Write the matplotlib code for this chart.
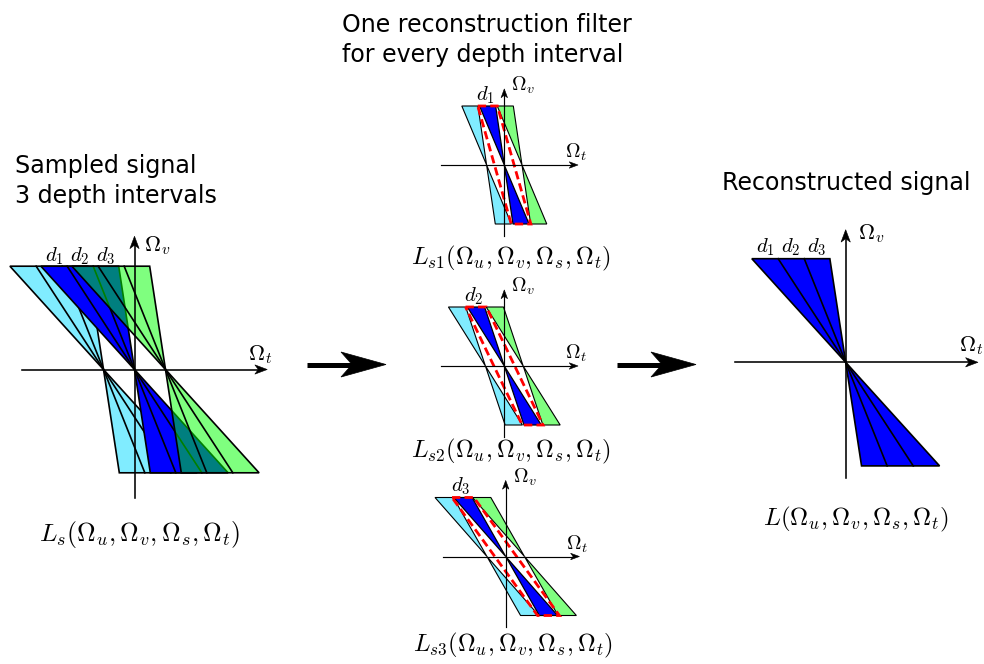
import numpy as np
import matplotlib
matplotlib.use("Agg")
import matplotlib.pyplot as plt
from matplotlib.patches import Polygon
from matplotlib.transforms import Affine2D

plt.rcParams["mathtext.fontset"] = "cm"
plt.rcParams["font.family"] = ["DejaVu Sans"]

# ---------------- data ----------------
depth_labels = [r"$d_1$", r"$d_2$", r"$d_3$"]
# edge slopes (Omega_t per unit Omega_v) bounding the d1 | d2 | d3 wedges
wedge_slopes = [-0.906, -0.652, -0.400, -0.153]
# sampling replicas (in units of the spectrum half height)
replica_index = [-1, 0, 1]
replica_shift = 0.30
replica_colors = ["#80ecff", "#0000ff", (0.0, 1.0, 0.0, 0.5)]
# sheared single-depth wedges shown in the three middle panels
panel_slopes = [[-0.42, -0.147], [-0.627, -0.334], [-0.88, -0.57]]
panel_shift = [0.30, 0.32, 0.318]
panel_labels = [r"$L_{s1}(\Omega_u,\Omega_v,\Omega_s,\Omega_t)$",
                r"$L_{s2}(\Omega_u,\Omega_v,\Omega_s,\Omega_t)$",
                r"$L_{s3}(\Omega_u,\Omega_v,\Omega_s,\Omega_t)$"]
sampled_label = r"$L_s(\Omega_u,\Omega_v,\Omega_s,\Omega_t)$"
recon_label = r"$L(\Omega_u,\Omega_v,\Omega_s,\Omega_t)$"
filter_color = "#ff0000"

# ---------------- figure ----------------
fig = plt.figure(figsize=(9.84, 6.64), dpi=100)
ax = fig.add_axes([0, 0, 1, 1])
ax.set_xlim(0, 984)
ax.set_ylim(664, 0)
ax.axis("off")


def frame(cx, cy, h):
    return Affine2D().scale(h, -h).translate(cx, cy) + ax.transData


def wedge(c, a, b):
    up = [(c, 0), (c + a, 1), (c + b, 1)]
    dn = [(c, 0), (c - a, -1), (c - b, -1)]
    return up, dn


def stealth(T, tip, direction, length, half):
    dx, dy = direction
    px, py = -dy, dx
    tx, ty = tip
    pts = [(tx, ty),
           (tx - dx * length + px * half, ty - dy * length + py * half),
           (tx - dx * length * 0.72, ty - dy * length * 0.72),
           (tx - dx * length - px * half, ty - dy * length - py * half)]
    ax.add_patch(Polygon(pts, closed=True, facecolor="k", edgecolor="k", lw=0.4,
                         transform=T, zorder=21))


def draw_axes(T, xr, yr, lw, hl, hw):
    ax.plot([xr[0], xr[1] - hl * 0.6], [0, 0], color="k", lw=lw, transform=T, zorder=20)
    ax.plot([0, 0], [yr[0], yr[1] - hl * 0.6], color="k", lw=lw, transform=T, zorder=20)
    stealth(T, (xr[1], 0), (1, 0), hl, hw)
    stealth(T, (0, yr[1]), (0, 1), hl, hw)


def full_spectrum(T, centers, colors, z0):
    z = z0
    for c, col in zip(centers, colors):
        up, dn = wedge(c, wedge_slopes[0], wedge_slopes[-1])
        for poly in (up, dn):
            ax.add_patch(Polygon(poly, closed=True, facecolor=col, edgecolor="k",
                                 lw=1.2, transform=T, zorder=z, joinstyle="miter"))
        for k in wedge_slopes[1:-1]:
            ax.plot([c, c + k], [0, 1], color="k", lw=1.2, transform=T, zorder=z + 0.5)
            ax.plot([c, c - k], [0, -1], color="k", lw=1.2, transform=T, zorder=z + 0.5)
        z += 1


# ---------------- left panel: sampled signal ----------------
TL = frame(134.5, 369.5, 103.3)
full_spectrum(TL, [i * replica_shift for i in replica_index], replica_colors, 2)
draw_axes(TL, (-1.085, 1.285), (-1.245, 1.29), 1.15, 0.12, 0.045)
for k0, k1, lab in zip(wedge_slopes[:-1], wedge_slopes[1:], depth_labels):
    ax.text((k0 + k1) / 2, 1.10, lab, transform=TL, ha="center", va="center", fontsize=15)
ax.text(0.09, 1.2, r"$\Omega_v$", transform=TL, ha="left", va="center", fontsize=16)
ax.text(1.215, 0.14, r"$\Omega_t$", transform=TL, ha="center", va="center", fontsize=16)
ax.text(0.05, -1.6, sampled_label, transform=TL, ha="center", va="center", fontsize=18.5)

# ---------------- right panel: reconstructed signal ----------------
TR = frame(845.7, 362.3, 103.6)
full_spectrum(TR, [0.0], [replica_colors[1]], 2)
draw_axes(TR, (-1.07, 1.277), (-1.12, 1.28), 1.15, 0.12, 0.045)
for k0, k1, lab in zip(wedge_slopes[:-1], wedge_slopes[1:], depth_labels):
    ax.text((k0 + k1) / 2, 1.11, lab, transform=TR, ha="center", va="center", fontsize=15)
ax.text(0.12, 1.24, r"$\Omega_v$", transform=TR, ha="left", va="center", fontsize=16)
ax.text(1.21, 0.16, r"$\Omega_t$", transform=TR, ha="center", va="center", fontsize=16)
ax.text(0.10, -1.52, recon_label, transform=TR, ha="center", va="center", fontsize=18)

# ---------------- middle panels: one filter per depth ----------------
mid_centers = [(504.3, 165.0), (504.3, 366.0), (505.7, 556.5)]
label_drop = [1.58, 1.44, 1.5]
mh = 59.0
for (cx, cy), (a, b), sh, dlab, llab, drop in zip(mid_centers, panel_slopes, panel_shift,
                                                  depth_labels, panel_labels, label_drop):
    T = frame(cx, cy, mh)
    for i, col in zip(replica_index, ["#80ecff", None, "#80ff80"]):
        if i == 0:
            continue
        for poly in wedge(i * sh, a, b):
            ax.add_patch(Polygon(poly, closed=True, facecolor=col,
                                 edgecolor="k", lw=0.8, transform=T, zorder=3))
    for poly in wedge(0.0, a, b):
        ax.add_patch(Polygon(poly, closed=True, facecolor=replica_colors[1],
                             edgecolor="k", lw=0.9, transform=T, zorder=4))
    m = 0.03
    filt = [(a - m, 1.0), (b + m, 1.0), (-a + m, -1.0), (-b - m, -1.0)]
    ax.add_patch(Polygon(filt, closed=True, facecolor="none", edgecolor=filter_color,
                         lw=2.0, linestyle=(0, (3.0, 1.5)), transform=T, zorder=5))
    draw_axes(T, (-1.07, 1.25), (-1.2, 1.29), 0.85, 0.15, 0.055)
    ax.text((a + b) / 2 - 0.03, 1.19, dlab, transform=T, ha="center", va="center", fontsize=15)
    ax.text(0.12, 1.35, r"$\Omega_v$", transform=T, ha="left", va="center", fontsize=14.5)
    ax.text(1.21, 0.21, r"$\Omega_t$", transform=T, ha="center", va="center", fontsize=14.5)
    ax.text(0.12, -drop, llab, transform=T, ha="center", va="center", fontsize=17.6)

# ---------------- big arrows ----------------
for x0, x1, y in [(307, 386, 364.5), (617, 696, 364.5)]:
    ax.plot([x0, x1 - 30], [y, y], color="k", lw=3.6, solid_capstyle="butt", zorder=10)
    head = [(x1, y), (x1 - 45, y - 12.5), (x1 - 34, y), (x1 - 45, y + 12.5)]
    ax.add_patch(Polygon(head, closed=True, facecolor="k", edgecolor="k", lw=0.5, zorder=11))

# ---------------- titles ----------------
fs = 17.1
ax.text(342, 32, "One reconstruction filter", ha="left", va="baseline", fontsize=fs)
ax.text(342, 62, "for every depth interval", ha="left", va="baseline", fontsize=fs)
ax.text(15, 173, "Sampled signal", ha="left", va="baseline", fontsize=fs)
ax.text(15, 203, "3 depth intervals", ha="left", va="baseline", fontsize=fs)
ax.text(722, 190, "Reconstructed signal", ha="left", va="baseline", fontsize=fs)

fig.savefig("out.png", dpi=100)
